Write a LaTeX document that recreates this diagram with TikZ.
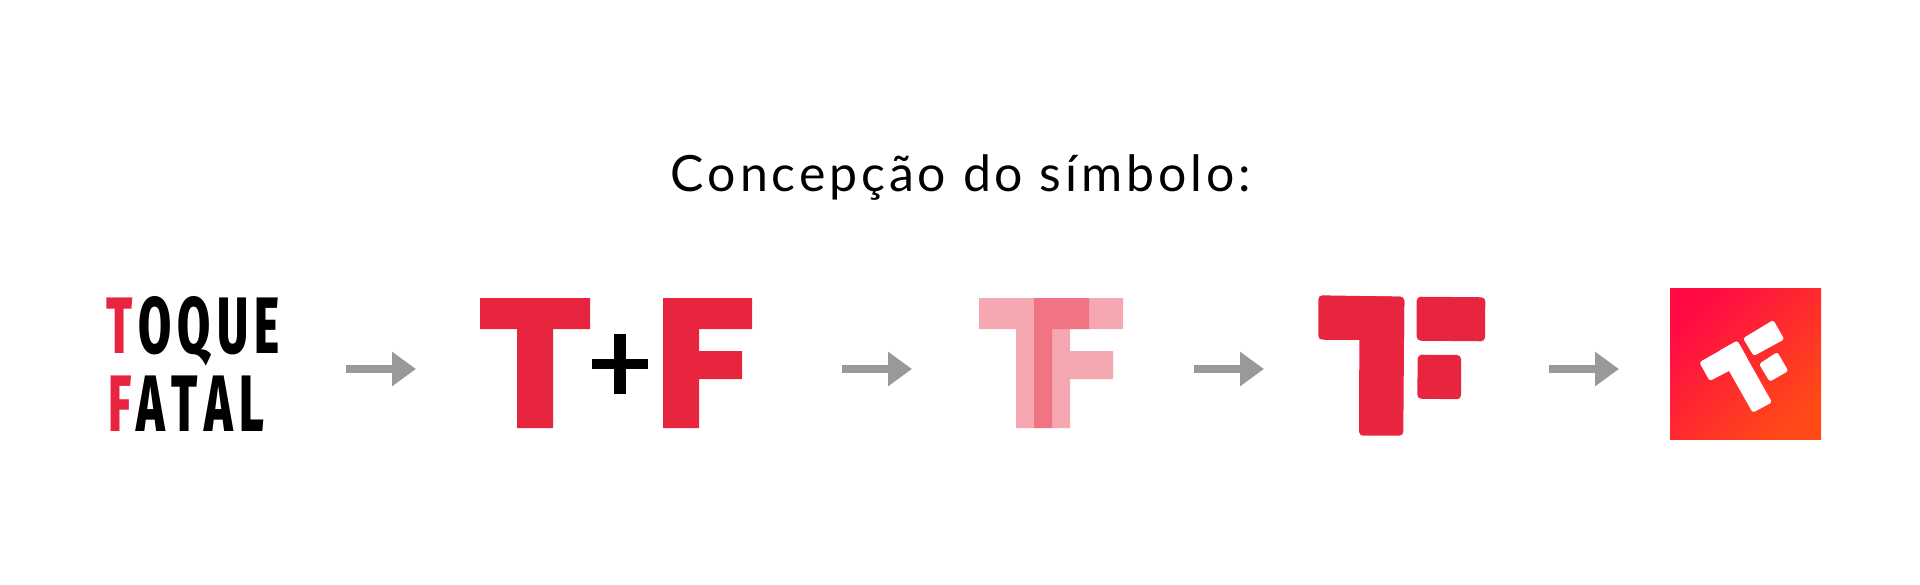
\documentclass[tikz,border=0pt]{standalone}
\usepackage{fontspec}
\usetikzlibrary{arrows.meta}
\setmainfont{Lato}
\newfontfamily\titlefont[LetterSpace=7.8]{Lato}
\newfontfamily\wordfont[FakeStretch=0.6,LetterSpace=8,Kerning=Off]{Fira Sans ExtraBold}
\definecolor{tfred}{HTML}{E8253F}
\definecolor{tfgray}{HTML}{999999}
\definecolor{tfpink}{HTML}{FF0A45}
\definecolor{tforange}{HTML}{FF4A17}

\tikzset{
  step arrow/.style={draw=tfgray, line width=8pt, -{Triangle[length=24pt,width=33pt]}},
  red shape/.style={fill=tfred, draw=none},
  ghost shape/.style={fill=tfred, fill opacity=0.4, draw=none},
  soft shape/.style={fill=tfred, draw=none, rounded corners=4pt},
  white shape/.style={fill=white, draw=none, rounded corners=2.5pt},
  word/.style={inner sep=0pt, anchor=base west, font=\wordfont\fontsize{80}{80}\selectfont}
}

\begin{document}
\begin{tikzpicture}[x=1pt, y=-1pt]
\useasboundingbox (0,0) rectangle (1920,584);

%title
\node (title) [anchor=base, inner sep=0pt, font=\titlefont\fontsize{50}{50}\selectfont] at (961,191) {Concepção do símbolo:};

%wordmark
\node (toque) [word] at (106,353) {\textcolor{tfred}{T}\kern6pt OQUE};
\node (fatal) [word] at (108,431) {\textcolor{tfred}{F}\kern5pt ATAL};

%t plus f
\fill[red shape] (480,298) -- (590,298) -- (590,329) -- (553,329) -- (553,428) -- (517,428) -- (517,329) -- (480,329) -- cycle;
\fill[black] (614,334) rectangle (626,394);
\fill[black] (592,359) rectangle (648,369);
\fill[red shape] (663,298) -- (752,298) -- (752,329) -- (699,329) -- (699,351) -- (742,351) -- (742,379) -- (699,379) -- (699,428) -- (663,428) -- cycle;

%overlap
\fill[ghost shape] (979,298) -- (1089,298) -- (1089,329) -- (1052,329) -- (1052,428) -- (1016,428) -- (1016,329) -- (979,329) -- cycle;
\fill[ghost shape] (1034,298) -- (1123,298) -- (1123,329) -- (1070,329) -- (1070,351) -- (1113,351) -- (1113,379) -- (1070,379) -- (1070,428) -- (1034,428) -- cycle;

%rounded symbol
\fill[soft shape] (1318.3,295.3) -- (1404.3,296.7) -- (1404,340.3) -- (1318.3,339.7) -- cycle;
\fill[soft shape] (1359.5,296) -- (1404.3,296.7) -- (1403.3,435.7) -- (1359,435.7) -- cycle;
\fill[soft shape] (1416.7,296.7) -- (1485.3,297.3) -- (1485,341.3) -- (1416.7,340.7) -- cycle;
\fill[soft shape] (1417.7,354.7) -- (1461,355) -- (1461,399.3) -- (1417.3,398.7) -- cycle;

%app icon
\shade[top color=tfpink, bottom color=tforange, shading angle=45] (1670,288) rectangle (1821,439);
\fill[white shape] (1699.3,362.3) -- (1737.3,340.7) -- (1748.6,360.8) -- (1709.7,381) -- cycle;
\fill[white shape] (1718,351.4) -- (1737.3,340.7) -- (1772,402.3) -- (1752.7,412.7) -- cycle;
\fill[white shape] (1743,338.3) -- (1773.3,320) -- (1784.3,339.3) -- (1753.7,356) -- cycle;
\fill[white shape] (1759,364) -- (1777.3,352) -- (1788.3,371) -- (1769.7,381.7) -- cycle;

%links
\coordinate (a1) at (346,369);
\coordinate (b1) at (416,369);
\coordinate (a2) at (842,369);
\coordinate (b2) at (912,369);
\coordinate (a3) at (1194,369);
\coordinate (b3) at (1264,369);
\coordinate (a4) at (1549,369);
\coordinate (b4) at (1619,369);
\foreach \i in {1,...,4}
  \draw[step arrow] (a\i) -- (b\i);
\end{tikzpicture}
\end{document}
